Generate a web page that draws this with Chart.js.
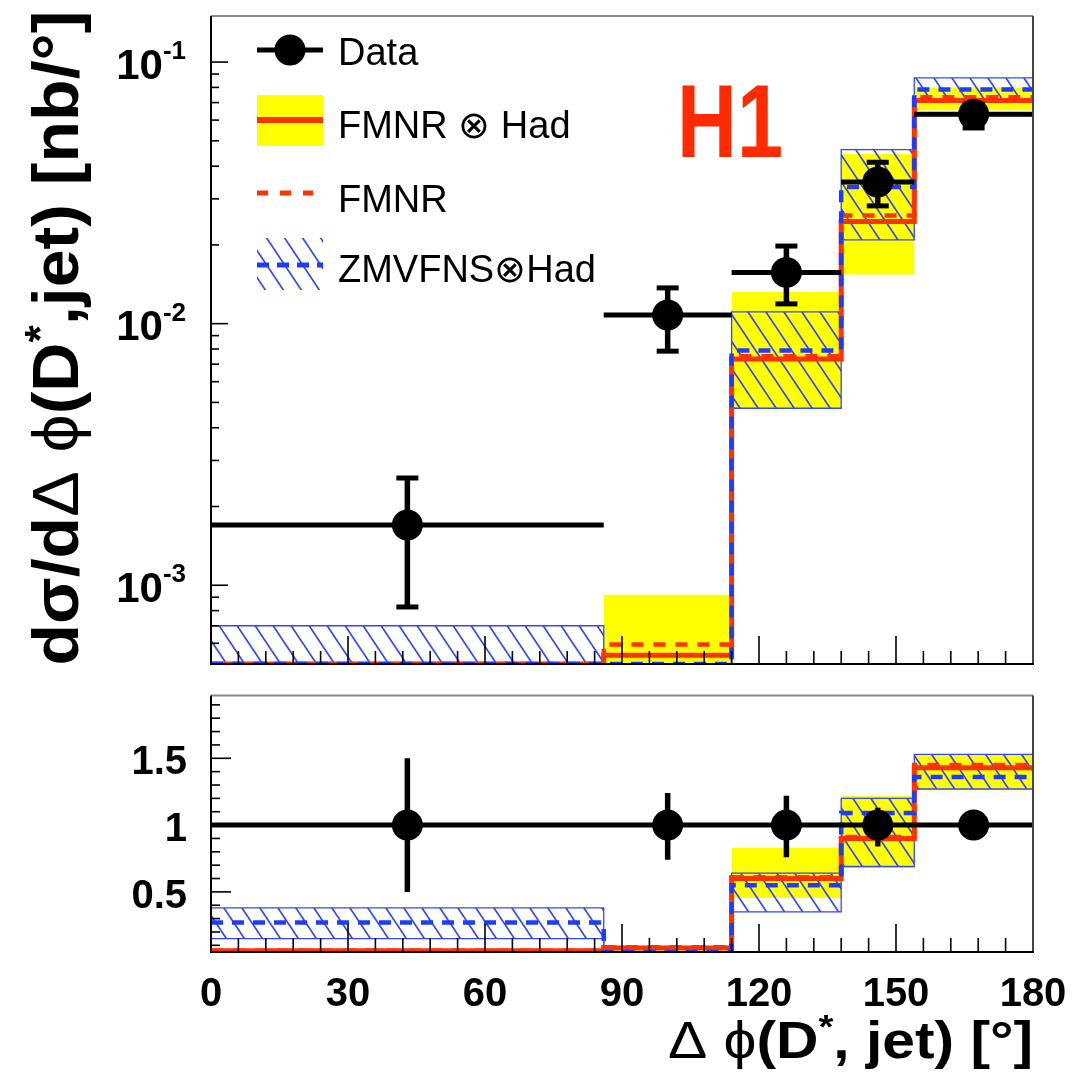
<!DOCTYPE html>
<html>
<head>
<meta charset="utf-8">
<script src="https://cdn.jsdelivr.net/npm/chart.js@4.4.1/dist/chart.umd.min.js"></script>
<style>
  body { margin: 0; background: #fff; }
  #wrap { position: relative; width: 1086px; height: 1075px; }
  canvas { position: absolute; left: 0; }
  #topChart { top: 0; }
  #ratioChart { top: 680px; }
</style>
</head>
<body>
<div id="wrap">
  <canvas id="topChart" width="1086" height="680"></canvas>
  <canvas id="ratioChart" width="1086" height="395"></canvas>
</div>
<script>
// bins of delta phi (degrees)
const binEdges = [0, 86, 114, 138, 154, 180];
const binCenters = [43, 100, 126, 146, 167];

// upper panel: cross section [nb/deg]
const dataXsec = [1.7e-3, 0.0108, 0.0157, 0.0348, 0.0632];
const dataXsecUp = [2.57e-3, 0.0137, 0.0198, 0.0414, 0.069];
const dataXsecDown = [8.26e-4, 7.85e-3, 0.0119, 0.0282, 0.056];

const fmnrHad = [5.0e-4, 5.4e-4, 7.32e-3, 0.0246, 0.0713];
const fmnrHadLo = [5.0e-4, 5.0e-4, 4.75e-3, 0.0154, 0.0655];
const fmnrHadHi = [5.0e-4, 9.2e-4, 0.0132, 0.0445, 0.080];
const fmnr = [5.0e-4, 5.94e-4, 7.5e-3, 0.0259, 0.0733];
const zmvfns = [5.0e-4, 5.0e-4, 7.9e-3, 0.0333, 0.0786];
const zmvfnsLo = [5.0e-4, 5.0e-4, 4.75e-3, 0.0209, 0.0713];
const zmvfnsHi = [7.0e-4, 5.0e-4, 0.0111, 0.0463, 0.087];

// lower panel: ratio R
const ratioData = [1, 1, 1, 1, 1];
const ratioUp = [1.5, 1.24, 1.22, 1.13, 1.05];
const ratioDown = [0.5, 0.74, 0.76, 0.84, 0.95];
const ratioFmnrHad = [0.06, 0.08, 0.60, 0.90, 1.43];
const ratioFmnrHadLo = [0.05, 0.05, 0.455, 0.68, 1.26];
const ratioFmnrHadHi = [0.07, 0.10, 0.83, 1.22, 1.53];
const ratioFmnr = [0.06, 0.085, 0.61, 0.91, 1.45];
const ratioZmvfns = [0.27, 0.05, 0.55, 1.09, 1.36];
const ratioZmvfnsLo = [0.15, 0.05, 0.35, 0.69, 1.27];
const ratioZmvfnsHi = [0.38, 0.05, 0.64, 1.20, 1.53];

// axis labels
const xTickValues = [0, 30, 60, 90, 120, 150, 180];
const xTickLabels = ['0', '30', '60', '90', '120', '150', '180'];
const logTickExps = [-3, -2, -1];
const ratioTickValues = [0.5, 1, 1.5];
const ratioTickLabels = ['0.5', '1', '1.5'];

const FONT = '"Liberation Sans", Arial, Helvetica, sans-serif';
const RED = '#ff3300';
const BLUE = '#1e3cff';
const HATCH = '#3347ff';
const YELLOW = '#ffff00';
const PHI = '\u03d5';

function hatchPattern() {
  const c = document.createElement('canvas');
  c.width = 18; c.height = 27;
  const g = c.getContext('2d');
  g.strokeStyle = HATCH;
  g.lineWidth = 1.7;
  g.beginPath();
  for (const k of [-1, 0, 1]) {
    g.moveTo(18 * k - 12, -18);
    g.lineTo(18 * k + 30, 45);
  }
  g.stroke();
  return g.createPattern(c, 'repeat');
}
const hatch = hatchPattern();

// histogram outline: points on left bin edges + last edge
function steps(vals) {
  const pts = vals.map((v, i) => ({ x: binEdges[i], y: v }));
  pts.push({ x: binEdges[binEdges.length - 1], y: vals[vals.length - 1] });
  return pts;
}
function hSegs(vals) {
  const pts = [];
  vals.forEach((v, i) => {
    pts.push({ x: binEdges[i], y: v }, { x: binEdges[i + 1], y: v }, { x: binEdges[i + 1], y: null });
  });
  return pts;
}
function vSegs(lo, hi) {
  const pts = [];
  binCenters.forEach((c, i) => {
    pts.push({ x: c, y: lo[i] }, { x: c, y: hi[i] }, { x: c, y: null });
  });
  return pts;
}

function makeDatasets(d, up, down, mid, midLo, midHi, fm, zm, zmLo, zmHi, caps) {
  const base = { pointRadius: 0, fill: false, clip: 0, spanGaps: false };
  return [
    { ...base, data: binCenters.map((c, i) => ({ x: c, y: d[i] })), showLine: false,
      pointRadius: 15.5, pointBackgroundColor: '#000', pointBorderWidth: 0, clip: false },
    { ...base, data: hSegs(d), borderColor: '#000', borderWidth: 5 },
    { ...base, data: vSegs(down, up), borderColor: '#000', borderWidth: 5.5,
      pointStyle: 'line', pointRadius: caps ? 11 : 0, pointBorderWidth: 5, pointBorderColor: '#000' },
    { ...base, data: steps(zm), borderColor: BLUE, borderWidth: 4.5, borderDash: [12, 9], stepped: true },
    { ...base, data: steps(fm), borderColor: RED, borderWidth: 4.5, borderDash: [12, 10], stepped: true },
    { ...base, data: steps(mid), borderColor: RED, borderWidth: 5, stepped: true },
    { ...base, data: steps(zmHi), borderColor: HATCH, borderWidth: 1.3, stepped: true, fill: '+1', backgroundColor: hatch },
    { ...base, data: steps(zmLo), borderColor: HATCH, borderWidth: 1.3, stepped: true },
    { ...base, data: steps(midHi), borderWidth: 0, stepped: true, fill: '+1', backgroundColor: YELLOW },
    { ...base, data: steps(midLo), borderWidth: 0, stepped: true }
  ];
}

function line(ctx, x1, y1, x2, y2) {
  ctx.beginPath(); ctx.moveTo(x1, y1); ctx.lineTo(x2, y2); ctx.stroke();
}

// text made of pieces with different fonts, squeezed to a width
function richText(ctx, parts, x, y, align, targetWidth) {
  let w = 0;
  parts.forEach(p => { ctx.font = p.font; p.w = ctx.measureText(p.t).width; w += p.w; });
  const s = targetWidth ? targetWidth / w : 1;
  ctx.save();
  ctx.translate(x, y);
  ctx.scale(s, 1);
  let cx = align === 'right' ? -w : align === 'center' ? -w / 2 : 0;
  ctx.textAlign = 'left';
  parts.forEach(p => { ctx.font = p.font; ctx.fillText(p.t, cx, p.dy || 0); cx += p.w; });
  ctx.restore();
}

function drawFrame(chart, yTicks, xMajor, xMinor) {
  const { ctx, chartArea: a, scales: { x, y } } = chart;
  ctx.save();
  ctx.strokeStyle = '#000';
  ctx.lineWidth = 1.6;
  for (let v = 0; v <= 180; v += 6) {
    const px = x.getPixelForValue(v);
    line(ctx, px, a.bottom, px, a.bottom - (v % 30 === 0 ? xMajor : xMinor));
  }
  yTicks.forEach(t => {
    const py = y.getPixelForValue(t.v);
    line(ctx, a.left, py, a.left + t.len, py);
  });
  ctx.lineWidth = 2;
  ctx.strokeStyle = '#888';
  line(ctx, a.left, a.top, a.right, a.top);
  ctx.strokeStyle = '#444';
  line(ctx, a.right, a.top, a.right, a.bottom);
  ctx.strokeStyle = '#000';
  line(ctx, a.left, a.top, a.left, a.bottom);
  line(ctx, a.left - 1, a.bottom, a.right + 1, a.bottom);
  ctx.restore();
}

const topPlugin = {
  id: 'topDecor',
  afterDraw(chart) {
    const { ctx, scales: { y } } = chart;
    const ticks = [];
    logTickExps.forEach(e => {
      const dec = Math.pow(10, e);
      ticks.push({ v: dec, len: 17 });
      for (let m = 2; m <= 9; m++) ticks.push({ v: m * dec, len: 8 });
    });
    for (let m = 6; m <= 9; m++) ticks.push({ v: m * 1e-4, len: 8 });
    drawFrame(chart, ticks.filter(t => t.v >= y.min && t.v <= y.max), 28, 13);

    ctx.save();
    ctx.fillStyle = '#000';
    ctx.textBaseline = 'middle';
    logTickExps.forEach(e => {
      const py = y.getPixelForValue(Math.pow(10, e));
      ctx.font = 'bold 26px ' + FONT;
      ctx.textAlign = 'right';
      const sup = String(e);
      const sw = ctx.measureText(sup).width;
      ctx.fillText(sup, 186, py - 10);
      ctx.font = 'bold 42px ' + FONT;
      ctx.fillText('10', 186 - sw, py + 5);
    });

    // legend
    ctx.lineCap = 'butt';
    ctx.strokeStyle = '#000'; ctx.lineWidth = 5;
    line(ctx, 257, 50, 323, 50);
    ctx.fillStyle = '#000';
    ctx.beginPath(); ctx.arc(290, 50, 15.5, 0, Math.PI * 2); ctx.fill();
    ctx.fillStyle = YELLOW; ctx.fillRect(257, 95, 66, 51);
    ctx.strokeStyle = RED; ctx.lineWidth = 6; line(ctx, 257, 120, 323, 120);
    ctx.lineWidth = 5; ctx.setLineDash([11, 12]); line(ctx, 257, 193, 313, 193);
    ctx.save();
    ctx.beginPath(); ctx.rect(257, 238, 66, 52); ctx.clip();
    ctx.fillStyle = hatch; ctx.fillRect(257, 238, 66, 52);
    ctx.restore();
    ctx.strokeStyle = BLUE; ctx.setLineDash([12, 8]); line(ctx, 257, 265, 323, 265);
    ctx.setLineDash([]);
    ctx.fillStyle = '#000';
    ctx.textBaseline = 'alphabetic';
    ctx.textAlign = 'left';
    ctx.font = '38px ' + FONT;
    ctx.fillText('Data', 338, 65);
    ctx.fillText('FMNR \u2297 Had', 338, 138);
    ctx.fillText('FMNR', 338, 212);
    ctx.fillText('ZMVFNS\u2297Had', 338, 282);

    // H1 label
    ctx.fillStyle = '#ff2a00';
    richText(ctx, [{ t: 'H1', font: 'bold 104px ' + FONT }], 677, 157, 'left', 106);

    // y title
    ctx.fillStyle = '#000';
    ctx.save();
    ctx.translate(78, 338);
    ctx.rotate(-Math.PI / 2);
    const B = 'bold 64px ' + FONT, R = '64px ' + FONT;
    richText(ctx, [
      { t: 'd\u03c3/d', font: B }, { t: '\u0394 ' + PHI, font: R }, { t: '(D', font: B },
      { t: '*', font: 'bold 42px ' + FONT, dy: -24 }, { t: ',jet) [nb/\u00b0]', font: B }
    ], 0, 0, 'center', 655);
    ctx.restore();
    ctx.restore();
  }
};

const ratioPlugin = {
  id: 'ratioDecor',
  afterDraw(chart) {
    const { ctx, scales: { x, y } } = chart;
    const ticks = [];
    for (let i = 1; i <= 19; i++) {
      const v = i / 10;
      ticks.push({ v: v, len: i % 5 === 0 ? 20 : 9 });
    }
    drawFrame(chart, ticks.filter(t => t.v >= y.min && t.v <= y.max), 28, 14);

    ctx.save();
    ctx.fillStyle = '#000';
    ctx.font = 'bold 40px ' + FONT;
    ctx.textAlign = 'right';
    ctx.textBaseline = 'middle';
    ratioTickValues.forEach((v, i) => {
      ctx.fillText(ratioTickLabels[i], 187, y.getPixelForValue(v) + 5);
    });
    ctx.textAlign = 'center';
    ctx.textBaseline = 'alphabetic';
    xTickValues.forEach((v, i) => {
      ctx.fillText(xTickLabels[i], x.getPixelForValue(v), 326);
    });

    // R label
    ctx.save();
    ctx.translate(88, 823);
    ctx.rotate(-Math.PI / 2);
    richText(ctx, [{ t: 'R', font: 'bold 64px ' + FONT }], 0, 0, 'center', 38);
    ctx.restore();

    // x title
    const B = 'bold 52px ' + FONT, R = '52px ' + FONT;
    richText(ctx, [
      { t: '\u0394 ' + PHI, font: R }, { t: '(D', font: B },
      { t: '*', font: 'bold 34px ' + FONT, dy: -20 }, { t: ', jet) [\u00b0]', font: B }
    ], 1033, 378, 'right', 365);
    ctx.restore();
  }
};

function baseOptions(yScale, pad) {
  return {
    responsive: false,
    animation: false,
    layout: { padding: pad },
    plugins: { legend: { display: false }, tooltip: { enabled: false } },
    scales: {
      x: { type: 'linear', min: 0, max: 180, display: false },
      y: yScale
    }
  };
}

new Chart(document.getElementById('topChart'), {
  type: 'line',
  data: {
    datasets: makeDatasets(dataXsec, dataXsecUp, dataXsecDown, fmnrHad, fmnrHadLo, fmnrHadHi,
      fmnr, zmvfns, zmvfnsLo, zmvfnsHi, true)
  },
  options: baseOptions({ type: 'logarithmic', min: 5e-4, max: 0.15, display: false },
    { left: 211, right: 53, top: 8, bottom: 10 }),
  plugins: [topPlugin]
});

new Chart(document.getElementById('ratioChart'), {
  type: 'line',
  data: {
    datasets: makeDatasets(ratioData, ratioUp, ratioDown, ratioFmnrHad, ratioFmnrHadLo, ratioFmnrHadHi,
      ratioFmnr, ratioZmvfns, ratioZmvfnsLo, ratioZmvfnsHi, false)
  },
  options: baseOptions({ type: 'linear', min: 0.05, max: 1.97, display: false },
    { left: 211, right: 53, top: 15, bottom: 123 }),
  plugins: [ratioPlugin]
});
</script>
</body>
</html>
